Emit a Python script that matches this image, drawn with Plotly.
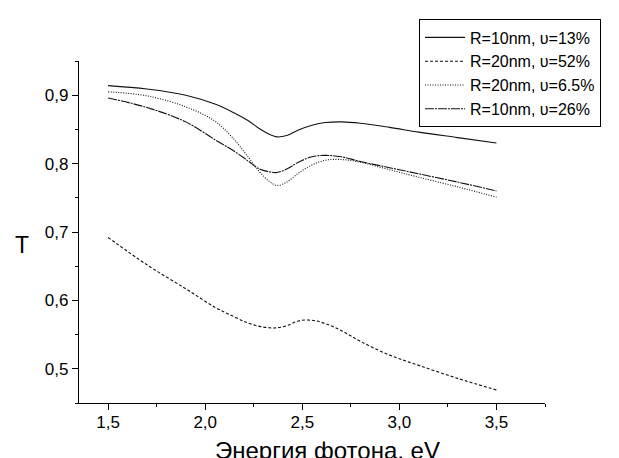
import plotly.graph_objects as go

energy = [1.5, 1.7, 1.9, 2.05, 2.15, 2.22, 2.28, 2.33, 2.37, 2.42, 2.48, 2.55, 2.62, 2.7, 2.8, 2.95, 3.1, 3.3, 3.5]

t_r10_13 = [0.914, 0.909, 0.900, 0.887, 0.874, 0.863, 0.851, 0.843, 0.839, 0.841, 0.849, 0.856, 0.860, 0.861, 0.859, 0.853, 0.846, 0.838, 0.830]
t_r20_52 = [0.692, 0.652, 0.617, 0.590, 0.576, 0.567, 0.562, 0.560, 0.560, 0.563, 0.570, 0.571, 0.566, 0.556, 0.540, 0.520, 0.505, 0.486, 0.469]
t_r20_65 = [0.905, 0.899, 0.883, 0.862, 0.835, 0.810, 0.788, 0.774, 0.768, 0.773, 0.786, 0.798, 0.805, 0.806, 0.802, 0.791, 0.780, 0.766, 0.751]
t_r10_26 = [0.896, 0.882, 0.861, 0.835, 0.818, 0.804, 0.792, 0.788, 0.787, 0.792, 0.802, 0.810, 0.812, 0.810, 0.803, 0.794, 0.785, 0.773, 0.760]

series_names = ["R=10nm, υ=13%", "R=20nm, υ=52%", "R=20nm, υ=6.5%", "R=10nm, υ=26%"]
series_values = [t_r10_13, t_r20_52, t_r20_65, t_r10_26]
dashes = ["solid", "3px,2px", "1px,1.5px", "9px,1px,2px,1px"]

x_tickvals = [1.5, 2.0, 2.5, 3.0, 3.5]
x_ticktext = ["1,5", "2,0", "2,5", "3,0", "3,5"]
y_tickvals = [0.5, 0.6, 0.7, 0.8, 0.9]
y_ticktext = ["0,5", "0,6", "0,7", "0,8", "0,9"]

FONT = "Liberation Sans, Arial, sans-serif"

# page body has an 8px margin; figure spans 8..619 x 8..458
W, H = 611, 450
ML, MR, MT, MB = 71, 74, 49, 55
PW, PH = W - ML - MR, H - MT - MB

fig = go.Figure()
for name, vals, dash in zip(series_names, series_values, dashes):
    fig.add_trace(go.Scatter(
        x=energy, y=vals, mode="lines", name=name,
        line=dict(color="#111111", width=1.1, dash=dash, shape="spline", smoothing=1.0),
    ))

axis_common = dict(
    showline=True, linecolor="black", linewidth=1.2, mirror=False,
    showgrid=False, zeroline=False, ticks="outside", ticklen=6, tickwidth=1.2,
    tickcolor="black", tickfont=dict(family=FONT, size=17, color="black"),
)

fig.update_layout(
    width=W, height=H,
    margin=dict(l=ML, r=MR, t=MT, b=MB),
    paper_bgcolor="white", plot_bgcolor="white",
    font=dict(family=FONT, color="black"),
    xaxis=dict(range=[1.35, 3.75], tickvals=x_tickvals, ticktext=x_ticktext,
               ticklabelstandoff=-3,
               minor=dict(dtick=0.25, tick0=1.5, ticks="outside", ticklen=3,
                          tickcolor="black", tickwidth=1.2),
               **axis_common),
    yaxis=dict(range=[0.45, 0.95], tickvals=y_tickvals, ticktext=y_ticktext,
               minor=dict(dtick=0.05, tick0=0.45, ticks="outside", ticklen=3,
                          tickcolor="black", tickwidth=1.2),
               **axis_common),
    legend=dict(
        x=(419 - 79) / PW, y=(403 - 15) / PH, xanchor="left", yanchor="top",
        bordercolor="black", borderwidth=1, bgcolor="white",
        font=dict(family=FONT, size=16, color="black"),
        tracegroupgap=0, itemwidth=40,
    ),
    showlegend=True,
    annotations=[
        dict(text="Энергия фотона, eV", xref="paper", yref="paper",
             x=(327 - 79) / PW, y=0, yshift=-47, xanchor="center", yanchor="middle",
             showarrow=False, font=dict(family=FONT, size=24, color="black")),
        dict(text="T", xref="paper", yref="paper",
             x=(22 - 79) / PW, y=(403 - 243) / PH, xanchor="center", yanchor="middle",
             showarrow=False, font=dict(family=FONT, size=23, color="black")),
    ],
)

fig.write_html("out.html")
